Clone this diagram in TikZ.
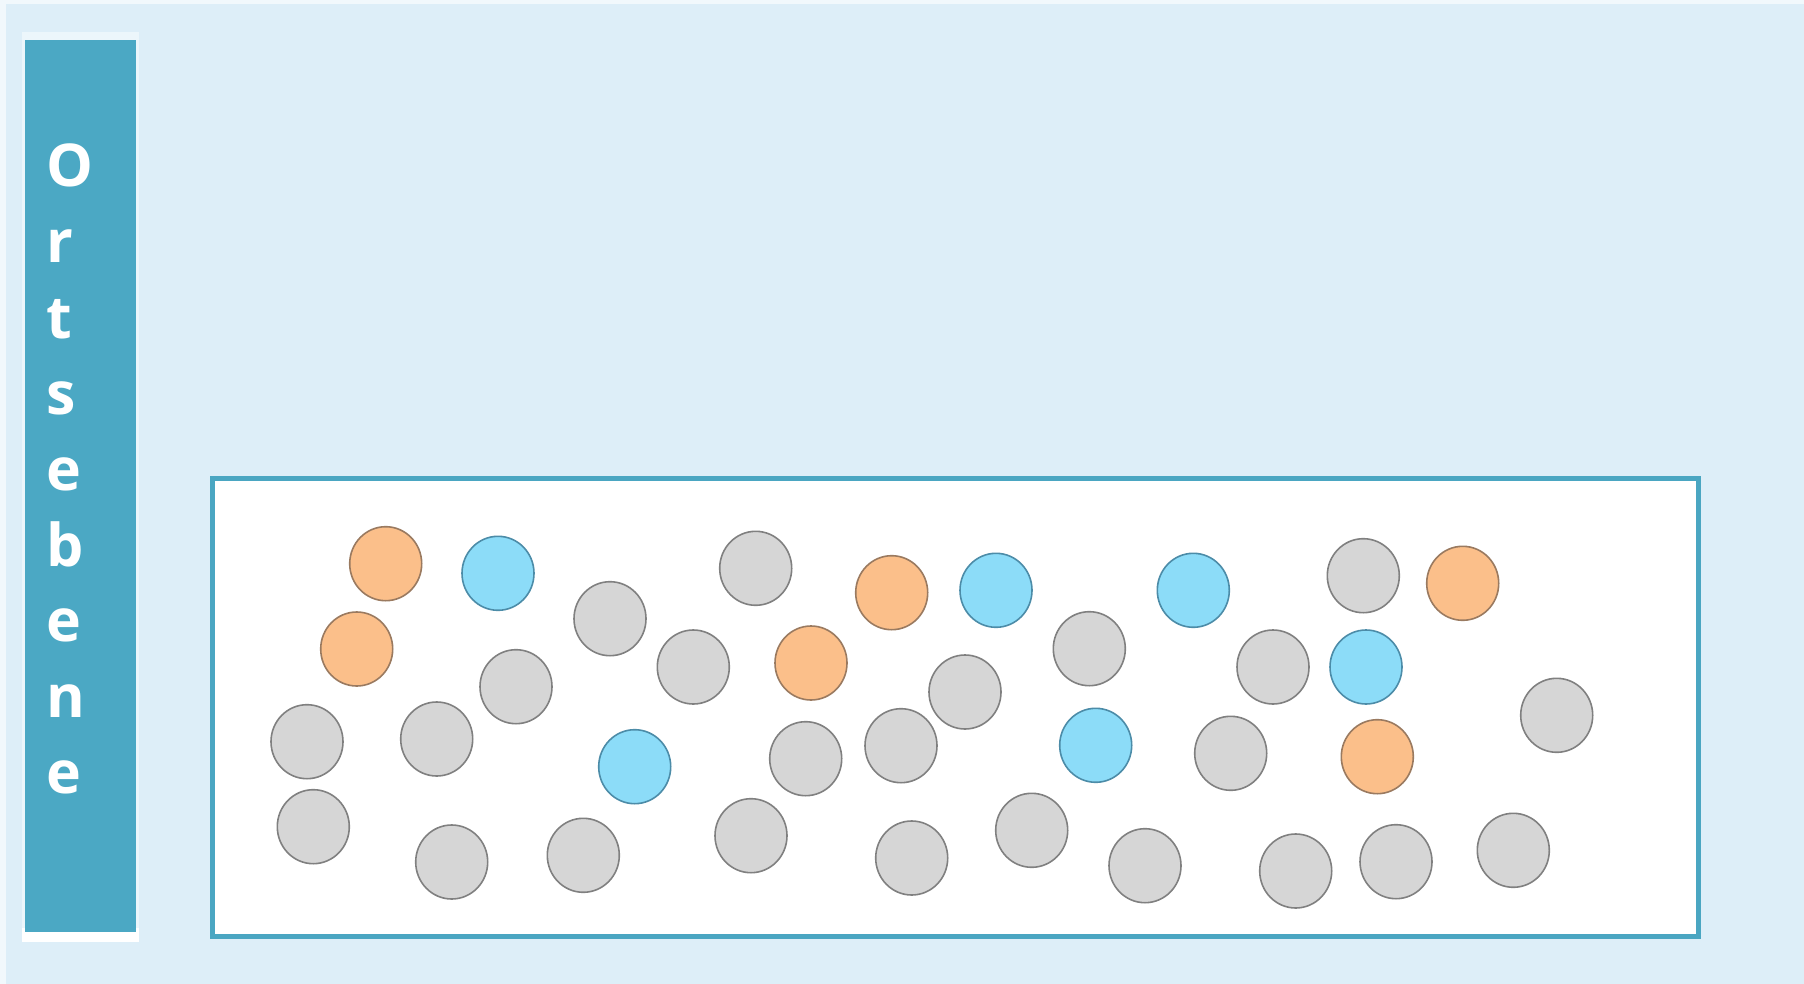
\documentclass[tikz,border=0pt]{standalone}
\usepackage{fontspec}
\newfontfamily\barfont{Open Sans}
\usetikzlibrary{shapes.geometric}
\definecolor{bgblue}{HTML}{DDEEF8}
\definecolor{barblue}{HTML}{4BA8C4}
\definecolor{frameblue}{HTML}{4AA6C2}
\definecolor{ofill}{HTML}{FBBF8A}
\definecolor{odraw}{HTML}{9A7A60}
\definecolor{bfill}{HTML}{8CDCF8}
\definecolor{bdraw}{HTML}{4C8CA8}
\definecolor{gfill}{HTML}{D6D6D6}
\definecolor{gdraw}{HTML}{808080}
\tikzset{
  ball/.style={ellipse, minimum width=72pt, minimum height=74pt, inner sep=0pt, line width=1.6pt},
  og/.style={ball, fill=ofill, draw=odraw},
  bl/.style={ball, fill=bfill, draw=bdraw},
  gr/.style={ball, fill=gfill, draw=gdraw},
  letter/.style={anchor=base west, inner sep=0pt, text=white, font=\barfont\bfseries\fontsize{59}{59}\selectfont}
}
\begin{document}
\begin{tikzpicture}[x=1pt, y=-1pt]
\useasboundingbox (0,0) rectangle (1804,984);
% background
\fill[bgblue] (0,0) rectangle (1804,984);
\fill[white!60!bgblue] (0,0) rectangle (1804,4);
\fill[white!60!bgblue] (0,0) rectangle (6,984);
% side bar
\fill[white!45!bgblue] (22,32) rectangle (139,942);
\fill[white] (22,928) rectangle (139,942);
\node[fill=barblue, inner sep=0pt, minimum width=111pt, minimum height=892pt, anchor=north west] (bar) at (25,40) {};
\foreach \c [count=\i from 0] in {O,r,t,s,e,b,e,n,e} {
  \node[letter] (l\i) at (46,{187+\i*75.8}) {\c};
}
% frame
\node[draw=frameblue, fill=white, line width=4.5pt, inner sep=0pt, minimum width=1486pt, minimum height=458pt, anchor=north west] (frame) at (210,476) {};
% orange
\node[og] (o1) at (385.7,563.7) {};
\node[og] (o2) at (356.7,649) {};
\node[og] (o3) at (891.7,592.7) {};
\node[og] (o4) at (811,663) {};
\node[og] (o5) at (1462.7,583.3) {};
\node[og] (o6) at (1377.3,756.7) {};
% blue
\node[bl] (b1) at (498,573.3) {};
\node[bl] (b2) at (996,590.3) {};
\node[bl] (b3) at (1193.3,590.3) {};
\node[bl] (b4) at (1366,667) {};
\node[bl] (b5) at (634.7,766.7) {};
\node[bl] (b6) at (1095.7,745.3) {};
% gray
\node[gr] (g1) at (755.7,568.3) {};
\node[gr] (g2) at (610,618.7) {};
\node[gr] (g3) at (693.3,667) {};
\node[gr] (g4) at (516,686.7) {};
\node[gr] (g5) at (307,741.7) {};
\node[gr] (g6) at (436.7,739) {};
\node[gr] (g7) at (313.3,826.7) {};
\node[gr] (g8) at (451.7,862) {};
\node[gr] (g9) at (583.3,855.3) {};
\node[gr] (g10) at (751,835.7) {};
\node[gr] (g11) at (805.7,758.7) {};
\node[gr] (g12) at (901,745.7) {};
\node[gr] (g13) at (965,692) {};
\node[gr] (g14) at (1089.3,648.7) {};
\node[gr] (g15) at (1273,667) {};
\node[gr] (g16) at (1363.3,575.7) {};
\node[gr] (g17) at (1230.7,753.3) {};
\node[gr] (g18) at (1556.7,715.3) {};
\node[gr] (g19) at (911.7,858) {};
\node[gr] (g20) at (1031.7,830.3) {};
\node[gr] (g21) at (1145,865.7) {};
\node[gr] (g22) at (1295.7,871) {};
\node[gr] (g23) at (1396,861.7) {};
\node[gr] (g24) at (1513.3,850.3) {};
\end{tikzpicture}
\end{document}
